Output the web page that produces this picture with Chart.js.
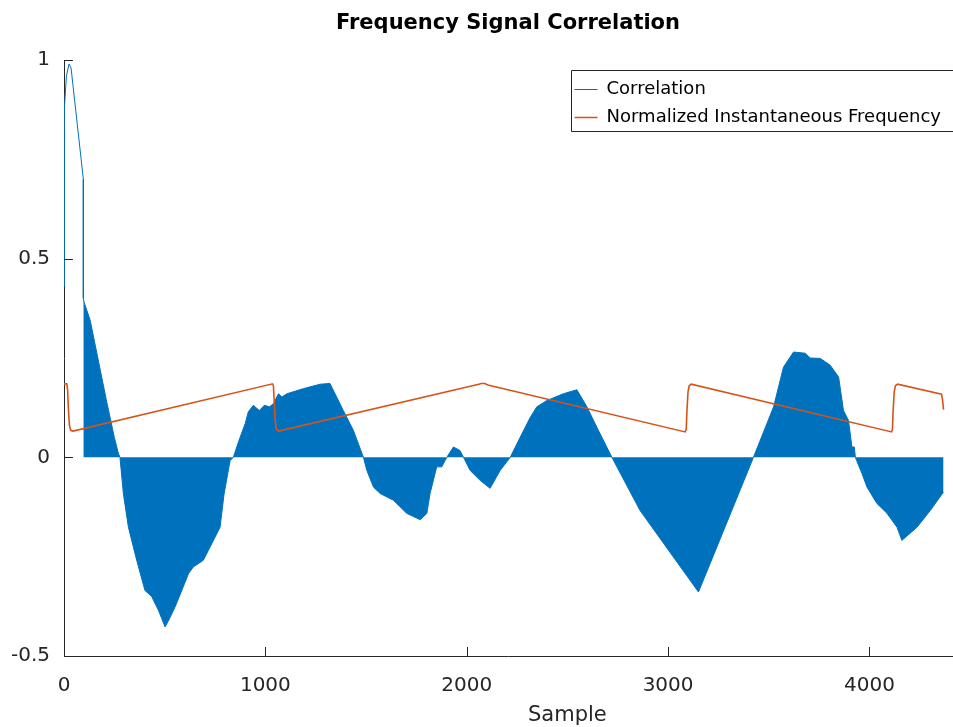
<!DOCTYPE html>
<html>
<head>
<meta charset="utf-8">
<script src="https://cdn.jsdelivr.net/npm/chart.js@4/dist/chart.umd.min.js"></script>
<style>
  html, body { margin: 0; padding: 0; background: #fff; }
  #wrap { width: 953px; height: 727px; }
</style>
</head>
<body>
<div id="wrap"><canvas id="c" width="953" height="727"></canvas></div>
<script>
// ---------- data ----------
const chartTitle = 'Frequency Signal Correlation';
const xAxisTitle = 'Sample';
const seriesNames = ['Correlation', 'Normalized Instantaneous Frequency'];

const xTickValues = [0, 1000, 2000, 3000, 4000];
const yTickValues = [-0.5, 0, 0.5, 1];

// Correlation: initial thin peak
const corrHeadX = [0, 1, 3, 12, 25, 35, 96, 96];
const corrHeadY = [0.43, 0.75, 0.88, 0.96, 0.99, 0.98, 0.70, 0.40];

// Correlation: dense oscillation envelope (filled to zero)
const corrEnvX = [96, 100, 130, 170, 210, 250, 270, 278, 295, 320, 361, 402, 435, 469, 502, 520, 551, 585, 618, 642, 692, 725, 775, 795, 825, 841,
  858, 875, 900, 915, 940, 970, 995, 1020, 1040, 1065, 1082, 1107, 1190, 1272, 1321, 1346, 1387, 1437, 1487,
  1504, 1537, 1570, 1636, 1702, 1769, 1802, 1818, 1851, 1876, 1901, 1934, 1967, 1984, 2017, 2067, 2116, 2166, 2216,
  2265, 2315, 2348, 2398, 2480, 2547, 2597, 2646, 2721, 2861, 3151, 3424,
  3524, 3573, 3623, 3681, 3706, 3756, 3805, 3847, 3871, 3896, 3913, 3925, 3930,
  3963, 3988, 4037, 4087, 4137, 4161, 4236, 4302, 4368];
const corrEnvY = [0.40, 0.39, 0.345, 0.245, 0.145, 0.05, 0.01, 0, -0.092, -0.176, -0.259, -0.335, -0.35, -0.385, -0.427, -0.41, -0.377, -0.335, -0.293, -0.276, -0.259, -0.226, -0.176, -0.092, -0.008, 0,
  0.026, 0.051, 0.085, 0.114, 0.131, 0.118, 0.131, 0.127, 0.135, 0.16, 0.152, 0.16, 0.173, 0.184, 0.186, 0.16, 0.118, 0.068, 0,
  -0.033, -0.075, -0.091, -0.108, -0.141, -0.157, -0.141, -0.091, -0.024, -0.024, 0, 0.026, 0.017, 0, -0.033, -0.058, -0.078, -0.033, 0,
  0.05, 0.10, 0.127, 0.143, 0.16, 0.17, 0.127, 0.076, 0, -0.134, -0.339, 0,
  0.127, 0.227, 0.265, 0.262, 0.25, 0.249, 0.232, 0.202, 0.118, 0.093, 0.026, 0.026, 0,
  -0.041, -0.075, -0.116, -0.141, -0.176, -0.209, -0.176, -0.134, -0.087];

// Normalized instantaneous frequency (sawtooth-like)
const freqX = [0, 14, 18, 22, 27, 33, 45, 1036, 1040, 1044, 1049, 1055, 1066, 2060, 2072, 2090, 2105, 3085, 3090, 3094, 3099, 3105, 3115,
  4110, 4114, 4118, 4123, 4129, 4140, 4358, 4363, 4368];
const freqY = [0.185, 0.185, 0.17, 0.12, 0.08, 0.068, 0.066, 0.185, 0.18, 0.14, 0.09, 0.07, 0.066, 0.184, 0.186, 0.186, 0.182, 0.064, 0.07, 0.12, 0.165, 0.18, 0.184,
  0.064, 0.07, 0.12, 0.165, 0.18, 0.184, 0.159, 0.145, 0.12];

const xMin = 0, xMax = 4410, yMin = -0.5, yMax = 1;
const xLabelCenterValue = 2500;

// ---------- styling ----------
const blue = '#0072BD';
const orange = '#D95319';
const axisColor = '#262626';
const FONT = 'DejaVu Sans';

const pts = (xs, ys) => xs.map((x, i) => ({x: x, y: ys[i]}));

const axisDecor = {
  id: 'axisDecor',
  beforeDraw(chart) {
    const lg = chart.legend;
    if (!lg || !lg.legendHitBoxes || !lg.legendHitBoxes.length) return;
    const ca = chart.chartArea;
    const pad = lg.options.labels.padding;
    const maxW = Math.max.apply(null, lg.legendHitBoxes.map(h => h.width));
    const boxTop = ca.top + 10.5;
    const boxLeft = ca.right - maxW - 15;
    lg.left = boxLeft + 4 - pad;
    lg.right = lg.left + maxW + 2 * pad;
    lg.top = boxTop + 9.5 - pad + 0.5;
    lg.bottom = ca.bottom;
    lg._frameBox = {left: Math.round(boxLeft) + 0.5, top: Math.round(boxTop) - 0.5, bottom: Math.round(boxTop + 60) + 0.5};
  },
  afterDraw(chart) {
    const {ctx, chartArea: ca, scales} = chart;
    const x = scales.x, y = scales.y;
    const tickLen = 9;
    ctx.save();
    ctx.strokeStyle = axisColor;
    ctx.lineWidth = 1;
    ctx.beginPath();
    x.ticks.forEach(t => {
      const px = Math.round(x.getPixelForValue(t.value)) + 0.5;
      ctx.moveTo(px, ca.bottom);
      ctx.lineTo(px, ca.bottom - tickLen);
    });
    y.ticks.forEach(t => {
      const py = Math.round(y.getPixelForValue(t.value)) + 0.5;
      ctx.moveTo(ca.left, py);
      ctx.lineTo(ca.left + tickLen, py);
    });
    ctx.stroke();
    // legend frame
    const fb = chart.legend && chart.legend._frameBox;
    if (fb) {
      ctx.beginPath();
      ctx.moveTo(chart.width + 5, fb.top);
      ctx.lineTo(fb.left, fb.top);
      ctx.lineTo(fb.left, fb.bottom);
      ctx.lineTo(chart.width + 5, fb.bottom);
      ctx.stroke();
    }
    // x axis title
    ctx.fillStyle = axisColor;
    ctx.font = '21px "' + FONT + '"';
    ctx.textAlign = 'center';
    ctx.textBaseline = 'alphabetic';
    ctx.fillText(xAxisTitle, x.getPixelForValue(xLabelCenterValue), ca.bottom + 65);
    ctx.restore();
  }
};

new Chart(document.getElementById('c'), {
  type: 'line',
  data: {
    datasets: [
      {
        label: seriesNames[0],
        data: pts(corrHeadX, corrHeadY),
        borderColor: blue,
        backgroundColor: blue,
        borderWidth: 1,
        pointRadius: 0,
        fill: false,
        tension: 0,
        order: 2
      },
      {
        label: '',
        data: pts(corrEnvX, corrEnvY),
        borderColor: blue,
        backgroundColor: blue,
        borderWidth: 1,
        pointRadius: 0,
        fill: 'origin',
        tension: 0,
        order: 3
      },
      {
        label: seriesNames[1],
        data: pts(freqX, freqY),
        borderColor: orange,
        backgroundColor: orange,
        borderWidth: 1.6,
        pointRadius: 0,
        fill: false,
        tension: 0,
        order: 1
      }
    ]
  },
  options: {
    responsive: false,
    animation: false,
    devicePixelRatio: 1,
    layout: { padding: { left: 0, right: 1, top: 0, bottom: 0 } },
    plugins: {
      title: {
        display: true,
        text: chartTitle,
        fullSize: false,
        color: '#000',
        font: { family: FONT, size: 21, weight: 'bold' },
        padding: { top: 11, bottom: 23.8 }
      },
      legend: {
        display: true,
        position: 'chartArea',
        align: 'start',
        labels: {
          usePointStyle: true,
          pointStyle: 'line',
          pointStyleWidth: 23,
          boxHeight: 18,
          padding: 10,
          color: '#000',
          font: { family: FONT, size: 18 },
          filter: (item) => item.text !== '',
          sort: (a, b) => a.datasetIndex - b.datasetIndex
        }
      },
      tooltip: { enabled: false }
    },
    scales: {
      x: {
        type: 'linear',
        min: xMin,
        max: xMax,
        afterBuildTicks: (s) => { s.ticks = xTickValues.map(v => ({value: v})); },
        afterFit: (s) => { s.height = 71; },
        grid: { display: false, drawTicks: false },
        border: { display: true, color: axisColor, width: 1 },
        ticks: {
          color: axisColor,
          font: { family: FONT, size: 20 },
          padding: 18,
          maxRotation: 0,
          callback: (v) => String(v)
        }
      },
      y: {
        type: 'linear',
        min: yMin,
        max: yMax,
        afterBuildTicks: (s) => { s.ticks = yTickValues.map(v => ({value: v})); },
        afterFit: (s) => { s.width = 64; },
        grid: { display: false, drawTicks: false },
        border: { display: true, color: axisColor, width: 1 },
        ticks: {
          color: axisColor,
          font: { family: FONT, size: 20 },
          padding: 14,
          callback: (v) => String(v)
        }
      }
    }
  },
  plugins: [axisDecor]
});
</script>
</body>
</html>
